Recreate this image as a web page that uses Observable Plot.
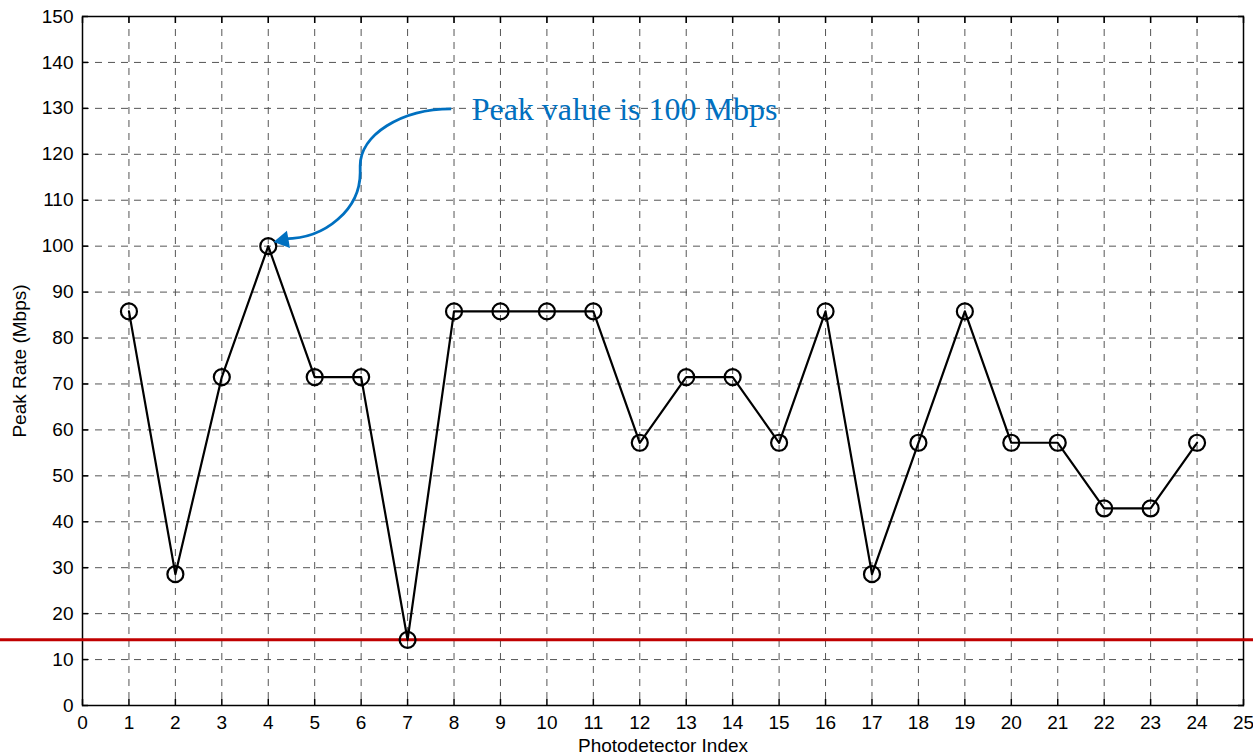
<!DOCTYPE html>
<html><head><meta charset="utf-8">
<script src="https://cdn.jsdelivr.net/npm/d3@7"></script>
<script src="https://cdn.jsdelivr.net/npm/@observablehq/plot@0.6"></script>
<style>body{margin:0;background:#fff}</style>
</head><body><div id="chart"></div>
<script>
const detectorIndex = [1,2,3,4,5,6,7,8,9,10,11,12,13,14,15,16,17,18,19,20,21,22,23,24];
const peakRate = [85.8,28.6,71.5,100,71.5,71.5,14.3,85.8,85.8,85.8,85.8,57.2,71.5,71.5,57.2,85.8,28.6,57.2,85.8,57.2,57.2,42.9,42.9,57.2];
const xTicks = d3.range(0, 26, 1);
const yTicks = d3.range(0, 151, 10);
const thresholdRate = [14.3];
const annotationText = ["Peak value is 100 Mbps"];
const annotationTextPos = [{x: 8.38, y: 129.8}];
// S-shaped annotation curve (data units): start, ctrl, ctrl, mid, mid2, ctrl, ctrl, end
const annotationCurve = [[7.95,129.8],[6.87,129.8],[5.99,124.1],[5.99,117.4],[5.99,115.9],[5.99,108.0],[5.25,101.5],[4.37,101.5]];
const arrowTip = [{x: 4.22, y: 101.3}];
const data = detectorIndex.map((d, i) => ({x: d, y: peakRate[i]}));

const fontSans = "'Liberation Sans', Arial, Helvetica, sans-serif";
const chart = Plot.plot({
  width: 1253, height: 755,
  marginLeft: 82, marginRight: 10, marginTop: 16, marginBottom: 50,
  style: {fontFamily: fontSans, fontSize: "19px", color: "#000", background: "#fff"},
  x: {domain: [0, 25], ticks: xTicks},
  y: {domain: [0, 150], ticks: yTicks},
  marks: [
    Plot.gridX(xTicks, {stroke: "#555", strokeOpacity: 1, strokeDasharray: "7,6", strokeWidth: 1}),
    Plot.gridY(yTicks, {stroke: "#555", strokeOpacity: 1, strokeDasharray: "7,6", strokeWidth: 1}),
    Plot.axisX(xTicks, {tickSize: 0, tickPadding: 10, label: "Photodetector Index", labelAnchor: "center", labelArrow: "none", labelOffset: 46, fontSize: 19}),
    Plot.axisY(yTicks, {tickSize: 0, tickPadding: 9, label: "Peak Rate (Mbps)", labelAnchor: "center", labelArrow: "none", labelOffset: 70, fontSize: 19}),
    Plot.axisX(xTicks, {tickSize: -6, text: null, label: null, strokeWidth: 1.5}),
    Plot.axisX(xTicks, {anchor: "top", tickSize: -6, text: null, label: null, strokeWidth: 1.5}),
    Plot.axisY(yTicks, {tickSize: -6, text: null, label: null, strokeWidth: 1.5}),
    Plot.axisY(yTicks, {anchor: "right", tickSize: -6, text: null, label: null, strokeWidth: 1.5}),
    Plot.frame({stroke: "#000", strokeWidth: 1.5}),
    Plot.ruleY(thresholdRate, {stroke: "#c00000", strokeWidth: 3, render: (index, scales, values, dims, ctx, next) => {
      const g = next(index, scales, values, dims, ctx);
      g.querySelectorAll("line").forEach(l => { l.setAttribute("x1", 0); l.setAttribute("x2", dims.width); });
      return g;
    }}),
    Plot.line(data, {x: "x", y: "y", stroke: "#000", strokeWidth: 2.2}),
    Plot.dot(data, {x: "x", y: "y", r: 8, stroke: "#000", strokeWidth: 2.2, fill: "none"}),
    (index, scales) => {
      const p = annotationCurve.map(([a, b]) => [scales.x(a), scales.y(b)]);
      const path = d3.path();
      path.moveTo(...p[0]);
      path.bezierCurveTo(...p[1], ...p[2], ...p[3]);
      path.lineTo(...p[4]);
      path.bezierCurveTo(...p[5], ...p[6], ...p[7]);
      const el = d3.create("svg:path").attr("d", path.toString()).attr("fill", "none")
        .attr("stroke", "#0070c0").attr("stroke-width", 2.8);
      return el.node();
    },
    Plot.dot(arrowTip, {x: "x", y: "y", symbol: "triangle", r: 6.5, fill: "#0070c0", stroke: "none", rotate: -100, dx: 5}),
    Plot.text(annotationTextPos, {x: "x", y: "y", text: () => annotationText[0], textAnchor: "start", fill: "#0070c0", fontSize: 32, fontFamily: "'Liberation Serif', 'Times New Roman', serif"})
  ]
});
document.getElementById("chart").append(chart);
</script></body></html>
